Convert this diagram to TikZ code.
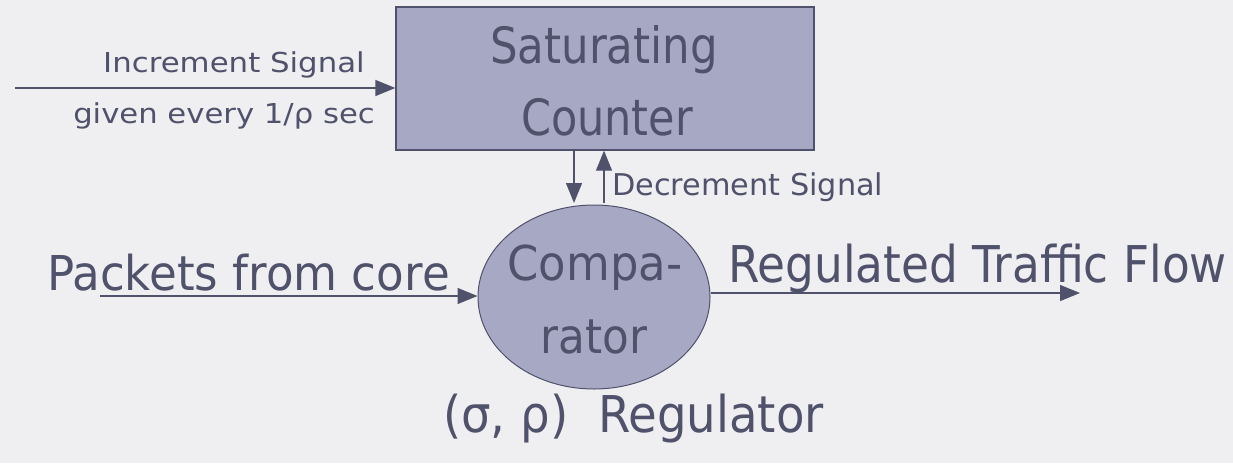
\documentclass[tikz,border=0pt]{standalone}
\usepackage{fontspec}
\usepackage{graphicx}
\setmainfont{DejaVu Sans}
\usetikzlibrary{arrows.meta,shapes.geometric}
\definecolor{bg}{HTML}{EFEFF1}
\definecolor{ink}{HTML}{50526C}
\definecolor{boxfill}{HTML}{A7A8C4}
\newcommand{\hsc}[2]{\scalebox{#1}[1]{#2}}
\tikzset{
  lbl/.style={inner sep=0pt,text=ink},
  conn/.style={draw=ink,line width=1.3pt,-{Triangle[length=20pt,width=16pt]}},
}
\begin{document}
\begin{tikzpicture}[x=1pt,y=-1pt]
\fill[bg] (0,0) rectangle (1233,463);
\useasboundingbox (0,0) rectangle (1233,463);
\node[draw=ink,line width=1.3pt,fill=boxfill,minimum width=418pt,minimum height=143pt,inner sep=0pt] (ctr) at (605,78.5) {};
\node[lbl,anchor=base,font=\fontsize{50}{50}\selectfont] (sat) at (604,63) {\hsc{0.87}{Saturating}};
\node[lbl,anchor=base,font=\fontsize{50}{50}\selectfont] (cnt) at (607,135) {\hsc{0.86}{Counter}};
\node[draw=ink,line width=1pt,fill=boxfill,ellipse,minimum width=232pt,minimum height=184pt,inner sep=0pt] (cmp) at (594,297) {};
\node[lbl,anchor=base,font=\fontsize{48}{48}\selectfont] (cmpa) at (595,280) {\hsc{0.935}{Compa-}};
\node[lbl,anchor=base,font=\fontsize{48}{48}\selectfont] (rat) at (594,353) {\hsc{0.91}{rator}};
\coordinate (inc0) at (15,88);
\coordinate (pk0) at (100,296);
\coordinate (rg1) at (1080,293);
\node[lbl,anchor=base east,font=\fontsize{27.4}{27.4}\selectfont] (inc) at (365,72) {\hsc{1.125}{Increment Signal}};
\node[lbl,anchor=base east,font=\fontsize{27.4}{27.4}\selectfont] (giv) at (375,123) {\hsc{1.12}{given every 1/ρ sec}};
\node[lbl,anchor=base west,font=\fontsize{30}{30}\selectfont] (dec) at (612,195) {\hsc{1.01}{Decrement Signal}};
\node[lbl,anchor=base west,font=\fontsize{48}{48}\selectfont] (pkt) at (47,290) {\hsc{0.94}{Packets from core}};
\node[lbl,anchor=base west,font=\fontsize{50.7}{50.7}\selectfont] (reg) at (728,282) {\hsc{0.895}{Regulated Traffic Flow}};
\node[lbl,anchor=base west,font=\fontsize{50.7}{50.7}\selectfont] (title) at (443,432) {\hsc{0.92}{(σ, ρ)\ \ Regulator}};
\draw[conn] (inc0) -- (inc0 -| ctr.west);
\draw[conn] (ctr.south -| 574,0) -- (574,203);
\draw[conn] (604,203) -- (ctr.south -| 604,0);
\draw[conn] (pk0) -- (pk0 -| cmp.west);
\draw[conn] (cmp.east |- rg1) -- (rg1);
\end{tikzpicture}
\end{document}
